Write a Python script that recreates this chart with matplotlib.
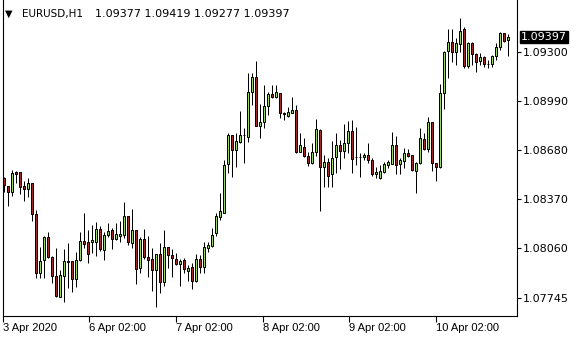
import matplotlib
matplotlib.use('Agg')
import matplotlib.pyplot as plt
import numpy as np

# EURUSD H1 candles
opens = [1.08505, 1.08454, 1.08418, 1.08541, 1.08541, 1.08454, 1.08433, 1.08471, 1.08275, 1.07902,
         1.07984, 1.08130, 1.08008, 1.07887, 1.07754, 1.07888, 1.07978, 1.07978, 1.07868, 1.07984,
         1.08106, 1.08098, 1.08102, 1.08102, 1.08180, 1.08051, 1.08142, 1.08174, 1.08117, 1.08140,
         1.08144, 1.08262, 1.08095, 1.08174, 1.07934, 1.08117, 1.08003, 1.07990, 1.07921, 1.08022,
         1.07849, 1.08068, 1.08016, 1.07994, 1.07959, 1.07984, 1.07918, 1.07942, 1.07851, 1.07990,
         1.07940, 1.08064, 1.08076, 1.08157, 1.08260, 1.08285, 1.08591, 1.08777, 1.08682, 1.08734,
         1.08775, 1.08766, 1.09047, 1.09142, 1.08836, 1.08857, 1.08962, 1.09036, 1.09019, 1.09041,
         1.08918, 1.08899, 1.08918, 1.08933, 1.08671, 1.08703, 1.08646, 1.08598, 1.08671, 1.08808,
         1.08572, 1.08606, 1.08530, 1.08636, 1.08714, 1.08677, 1.08724, 1.08802, 1.08636, 1.08636,
         1.08636, 1.08650, 1.08619, 1.08530, 1.08503, 1.08545, 1.08587, 1.08593, 1.08714, 1.08593,
         1.08612, 1.08665, 1.08650, 1.08551, 1.08598, 1.08750, 1.08686, 1.08857, 1.08598, 1.08576,
         1.09041, 1.09310, 1.09367, 1.09300, 1.09353, 1.09447, 1.09215, 1.09357, 1.09289, 1.09247,
         1.09272, 1.09226, 1.09226, 1.09277, 1.09332, 1.09420, 1.09377]
highs = [1.08511, 1.08457, 1.08555, 1.08549, 1.08543, 1.08483, 1.08505, 1.08473, 1.08305, 1.08066,
         1.08141, 1.08161, 1.08011, 1.08060, 1.07923, 1.08056, 1.08092, 1.07980, 1.08037, 1.08163,
         1.08283, 1.08176, 1.08205, 1.08226, 1.08199, 1.08166, 1.08223, 1.08190, 1.08218, 1.08233,
         1.08353, 1.08264, 1.08309, 1.08176, 1.08133, 1.08182, 1.08138, 1.08060, 1.08024, 1.08092,
         1.08176, 1.08070, 1.08059, 1.08030, 1.07995, 1.07999, 1.07954, 1.07965, 1.08022, 1.08018,
         1.08098, 1.08098, 1.08188, 1.08283, 1.08408, 1.08619, 1.08788, 1.08779, 1.08788, 1.08929,
         1.08819, 1.09167, 1.09167, 1.09245, 1.08973, 1.09093, 1.09047, 1.09093, 1.09093, 1.09043,
         1.08924, 1.08956, 1.09019, 1.08967, 1.08791, 1.08756, 1.08671, 1.08724, 1.08878, 1.08815,
         1.08650, 1.08629, 1.08739, 1.08788, 1.08745, 1.08845, 1.08867, 1.08872, 1.08829, 1.08661,
         1.08661, 1.08724, 1.08629, 1.08576, 1.08587, 1.08608, 1.08619, 1.08798, 1.08772, 1.08629,
         1.08693, 1.08686, 1.08652, 1.08608, 1.08819, 1.08788, 1.08893, 1.08859, 1.08600, 1.09099,
         1.09311, 1.09447, 1.09447, 1.09389, 1.09515, 1.09462, 1.09367, 1.09367, 1.09298, 1.09294,
         1.09277, 1.09251, 1.09283, 1.09357, 1.09430, 1.09424, 1.09419]
lows = [1.08416, 1.08328, 1.08391, 1.08473, 1.08404, 1.08361, 1.08385, 1.08235, 1.07872, 1.07870,
        1.07872, 1.08000, 1.07844, 1.07754, 1.07752, 1.07722, 1.07809, 1.07783, 1.07815, 1.07983,
        1.08060, 1.07969, 1.08028, 1.08009, 1.08043, 1.07988, 1.08130, 1.08054, 1.08111, 1.08102,
        1.08123, 1.08081, 1.08064, 1.07832, 1.07902, 1.07990, 1.07880, 1.07792, 1.07687, 1.07775,
        1.07821, 1.07938, 1.07880, 1.07954, 1.07825, 1.07902, 1.07855, 1.07801, 1.07850, 1.07902,
        1.07906, 1.08037, 1.08068, 1.08138, 1.08239, 1.08281, 1.08538, 1.08513, 1.08572, 1.08728,
        1.08602, 1.08734, 1.08967, 1.08834, 1.08760, 1.08823, 1.08903, 1.09013, 1.09009, 1.08882,
        1.08872, 1.08893, 1.08914, 1.08661, 1.08669, 1.08640, 1.08583, 1.08595, 1.08644, 1.08296,
        1.08450, 1.08450, 1.08450, 1.08534, 1.08562, 1.08629, 1.08661, 1.08534, 1.08587, 1.08509,
        1.08619, 1.08598, 1.08517, 1.08503, 1.08500, 1.08538, 1.08570, 1.08591, 1.08530, 1.08530,
        1.08566, 1.08640, 1.08549, 1.08408, 1.08595, 1.08682, 1.08671, 1.08551, 1.08488, 1.08571,
        1.08941, 1.09139, 1.09241, 1.09220, 1.09304, 1.09199, 1.09199, 1.09220, 1.09174, 1.09220,
        1.09209, 1.09199, 1.09209, 1.09251, 1.09315, 1.09363, 1.09277]
closes = [1.08460, 1.08418, 1.08534, 1.08530, 1.08450, 1.08437, 1.08471, 1.08275, 1.07902, 1.07978,
          1.08130, 1.08007, 1.07887, 1.07760, 1.07889, 1.07978, 1.07976, 1.07868, 1.07984, 1.08104,
          1.08089, 1.08026, 1.08112, 1.08180, 1.08054, 1.08142, 1.08169, 1.08117, 1.08149, 1.08150,
          1.08262, 1.08098, 1.08174, 1.07927, 1.08117, 1.08003, 1.07988, 1.07921, 1.08022, 1.07849,
          1.08068, 1.08016, 1.07997, 1.07963, 1.07980, 1.07927, 1.07937, 1.07851, 1.07990, 1.07940,
          1.08068, 1.08081, 1.08142, 1.08266, 1.08296, 1.08587, 1.08777, 1.08682, 1.08739, 1.08777,
          1.08777, 1.09047, 1.09142, 1.08836, 1.08857, 1.08960, 1.09036, 1.09019, 1.09047, 1.08914,
          1.08908, 1.08922, 1.08933, 1.08671, 1.08714, 1.08644, 1.08598, 1.08671, 1.08813, 1.08572,
          1.08608, 1.08519, 1.08629, 1.08714, 1.08677, 1.08728, 1.08802, 1.08625, 1.08635, 1.08635,
          1.08650, 1.08619, 1.08530, 1.08545, 1.08549, 1.08591, 1.08604, 1.08714, 1.08587, 1.08619,
          1.08665, 1.08646, 1.08555, 1.08602, 1.08756, 1.08690, 1.08857, 1.08598, 1.08576, 1.09041,
          1.09304, 1.09363, 1.09300, 1.09357, 1.09437, 1.09215, 1.09357, 1.09287, 1.09241, 1.09268,
          1.09224, 1.09225, 1.09277, 1.09335, 1.09420, 1.09373, 1.09397]

time_labels = ['3 Apr 2020', '6 Apr 02:00', '7 Apr 02:00', '8 Apr 02:00', '9 Apr 02:00', '10 Apr 02:00']
price_ticks = [1.07745, 1.08060, 1.08370, 1.08680, 1.08990, 1.09300]
symbol = 'EURUSD,H1'

plt.rcParams['font.family'] = 'DejaVu Sans'
plt.rcParams['font.size'] = 8

fig = plt.figure(figsize=(5.8, 3.4), dpi=100)
ax = fig.add_axes([2.5 / 580, 24.3 / 340, 514 / 580, 315.7 / 340])

o = np.array(opens)
h = np.array(highs)
l = np.array(lows)
c = np.array(closes)
x = np.arange(len(o))
up = c >= o

# 1 px wicks, 3 px bodies with a 1 px black border
ax.vlines(x, l, h, color='black', linewidth=0.72, zorder=1)
body = np.maximum(np.abs(c - o), 0.00001)
ax.bar(x, body, bottom=np.minimum(o, c), width=0.5,
       color=np.where(up, '#7CFC00', '#FF0000'), edgecolor='black', linewidth=0.72, zorder=2)

ax.set_xlim(-0.25, 128.25)
ax.set_ylim(1.07634, 1.09631)

ax.spines['top'].set_visible(False)
for s in ['left', 'right', 'bottom']:
    ax.spines[s].set_linewidth(0.8)

# price scale on the right
ax.yaxis.tick_right()
ax.set_yticks(price_ticks)
ax.set_yticklabels(['%.5f' % p for p in price_ticks])
ax.tick_params(axis='y', direction='out', length=3, width=0.8, pad=1.5, labelsize=8)

# time scale, labels start at the tick
tick_pos = [-0.2, 21.46, 43.12, 64.79, 86.37, 108.04]
ax.set_xticks(tick_pos)
ax.set_xticklabels(time_labels)
ax.tick_params(axis='x', direction='out', length=4, width=0.8, pad=1.5)
for lab in ax.get_xticklabels():
    lab.set_horizontalalignment('left')
    lab.set_fontfamily('Liberation Sans')
    lab.set_fontsize(8)

# last price marker
ax.annotate('%.5f' % closes[-1], xy=(1.0, closes[-1]), xycoords=ax.get_yaxis_transform(),
            xytext=(3, 0), textcoords='offset points', ha='left', va='center', color='white',
            fontsize=8, annotation_clip=False,
            bbox=dict(boxstyle='square,pad=0.08', fc='black', ec='black'))

# header
fig.text(4.5 / 580, 1 - 16.5 / 340, '\u25bc', fontsize=7, va='baseline')
fig.text(21.7 / 580, 1 - 16.7 / 340, symbol, fontsize=7.5, va='baseline')
fig.text(95 / 580, 1 - 16.7 / 340, ' '.join('%.5f' % v for v in [opens[-1], highs[-1], lows[-1], closes[-1]]),
         fontsize=8, va='baseline')

fig.savefig('out.png', dpi=100)
